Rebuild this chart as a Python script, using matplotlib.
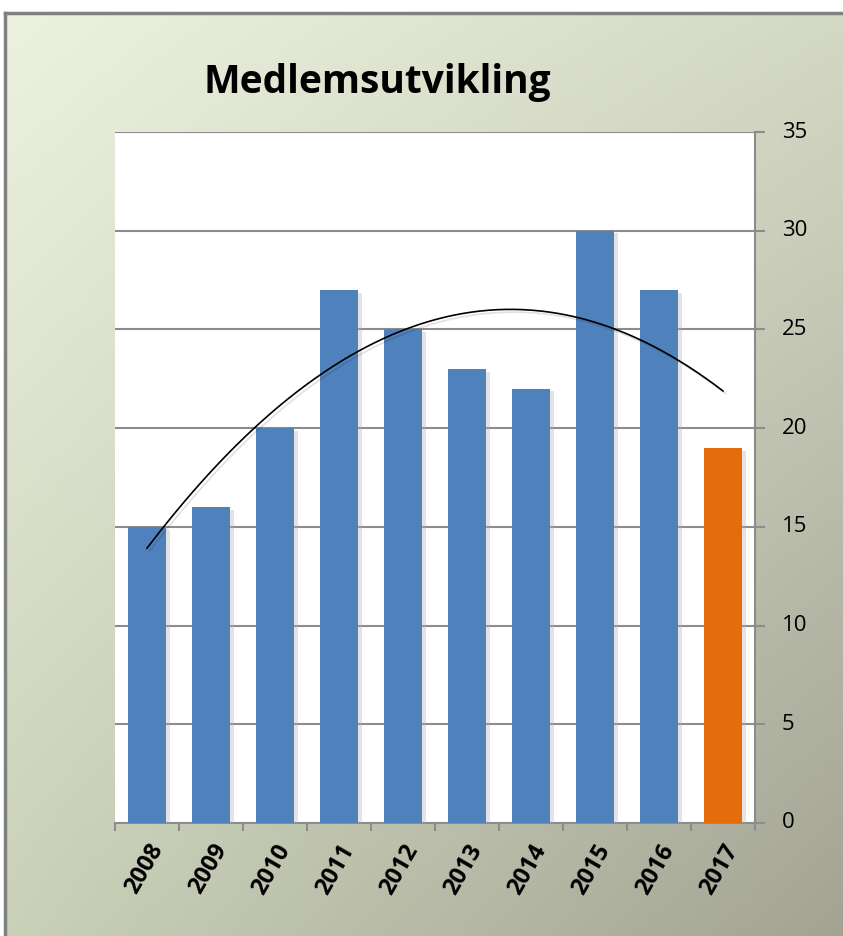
import numpy as np
import matplotlib
matplotlib.use("Agg")
import matplotlib.pyplot as plt
import matplotlib.patheffects as pe
import matplotlib.transforms as mtransforms

years = ["2008", "2009", "2010", "2011", "2012", "2013", "2014", "2015", "2016", "2017"]
members = [15, 16, 20, 27, 25, 23, 22, 30, 27, 19]
colors = ["#4F81BD"] * 9 + ["#E46C0A"]
yticks = [0, 5, 10, 15, 20, 25, 30, 35]
title = "Medlemsutvikling"

W, H = 843, 936
fig = plt.figure(figsize=(W / 100, H / 100), dpi=100)
fig.patch.set_facecolor("white")

# background gradient panel
bg = fig.add_axes([5 / W, 0, 1 - 5 / W, 1 - 13 / H])
bg.set_axis_off()
ny, nx = 200, 200
yy, xx = np.mgrid[0:1:ny * 1j, 0:1:nx * 1j]
tl = np.array([0.93, 0.95, 0.88])
tr = np.array([0.83, 0.85, 0.77])
bl = np.array([0.79, 0.82, 0.72])
br = np.array([0.64, 0.64, 0.58])
img = (tl * ((1 - xx) * (1 - yy))[..., None] + tr * (xx * (1 - yy))[..., None]
       + bl * ((1 - xx) * yy)[..., None] + br * (xx * yy)[..., None])
bg.imshow(img, aspect="auto", extent=[0, 1, 0, 1], origin="upper")
bg.set_xlim(0, 1)
bg.set_ylim(0, 1)
bg.plot([0, 1], [1, 1], color="#808080", lw=2.5, transform=bg.transAxes, clip_on=False)
bg.plot([0, 0], [0, 1], color="#808080", lw=2.5, transform=bg.transAxes, clip_on=False)

ax = fig.add_axes([115 / W, 1 - 823 / H, (755 - 115) / W, (823 - 132) / H])
ax.set_facecolor("white")
x = np.arange(len(years))
bars = ax.bar(x, members, width=0.58, color=colors, zorder=3)
for b in bars:
    b.set_path_effects([pe.SimplePatchShadow(offset=(3, -2), shadow_rgbFace="#b0b0b0", alpha=0.35), pe.Normal()])

coef = np.polyfit(x, members, 2)
xs = np.linspace(0, len(years) - 1, 200)
ax.plot(xs, np.polyval(coef, xs), color="black", lw=1.2, zorder=4,
        path_effects=[pe.SimpleLineShadow(offset=(2, -2), alpha=0.12), pe.Normal()])

ax.set_xlim(-0.5, len(years) - 0.5)
ax.set_ylim(0, 35)
ax.grid(axis="y", color="#8c8c8c", lw=1.5, zorder=1)

ax.set_xticks(x)
ax.set_xticklabels(years, rotation=60, fontsize=17, fontweight="bold", ha="right",
                   rotation_mode="anchor", family="Open Sans")
ax.tick_params(axis="x", which="major", length=0, pad=12)
ax.set_xticks(np.arange(-0.5, len(years), 1), minor=True)
ax.tick_params(axis="x", which="minor", length=6, width=1.5, color="#8c8c8c")
for s in ["left", "top"]:
    ax.spines[s].set_visible(False)
for s in ["right", "bottom"]:
    ax.spines[s].set_color("#8c8c8c")
    ax.spines[s].set_linewidth(1.5)

# right-side value axis: tick marks from the axis, labels placed beside them
ax.set_yticks(yticks)
ax.tick_params(axis="y", which="major", left=False, labelleft=False, right=True, labelright=False,
               length=7, width=1.5, color="#8c8c8c", direction="out")
ytrans = mtransforms.offset_copy(ax.get_yaxis_transform(), fig=fig, x=27, y=0, units="dots")
for v in yticks:
    ax.text(1, v, str(v), transform=ytrans, ha="left", va="center", fontsize=16,
            family="Open Sans", color="black", clip_on=False)

fig.text(377 / W, 1 - 82 / H, title, fontsize=28, fontweight="bold", ha="center", va="center",
         family="Open Sans")

fig.savefig("out.png", dpi=100)
